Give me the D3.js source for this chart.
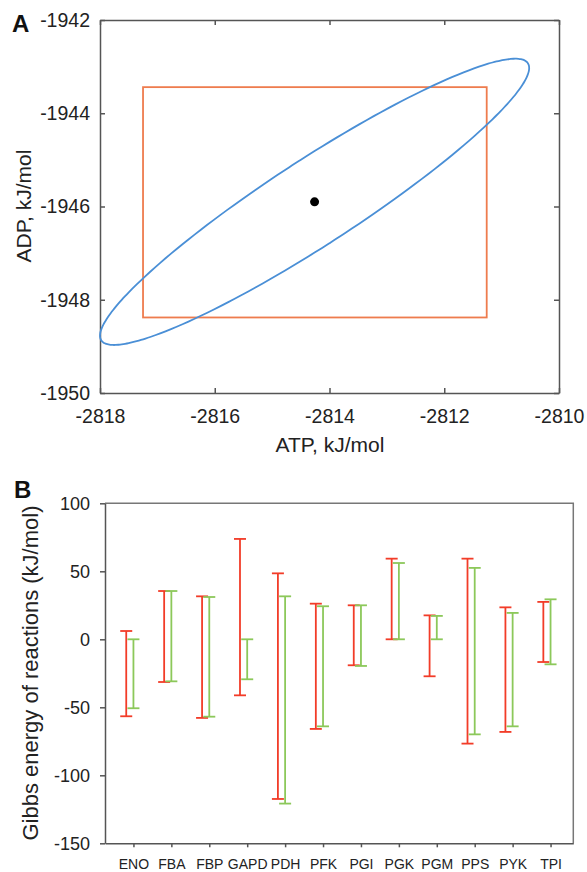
<!DOCTYPE html>
<html>
<head>
	<meta charset="utf-8">
	<title>ATP / ADP and reaction Gibbs energies</title>
	<style>
		body { margin: 0; background: #fff; }
		svg { display: block; font-family: "Liberation Sans", Arial, Helvetica, sans-serif; }
		.axis path, .axis line { stroke: #555; stroke-width: 1.5; }
		.axis text { fill: #222; }
		.panel-a .axis text { font-size: 19.5px; }
		.panel-b .axis text { font-size: 18px; }
		.panel-b .cats text { font-size: 14px; }
		.title { fill: #222; }
		.letter { font-weight: bold; font-size: 24px; fill: #111; }
	</style>
	<script src="https://d3js.org/d3.v7.min.js"></script>
</head>
<body>
	<svg id="chart" width="587" height="872"></svg>

	<script>
		// ---- panel A: ATP vs ADP formation energies
		const atpTicks = [-2818, -2816, -2814, -2812, -2810];
		const adpTicks = [-1950, -1948, -1946, -1944, -1942];
		const boxAtp = [-2817.25, -2811.26];
		const boxAdp = [-1948.38, -1943.44];
		const estimate = [-2814.26, -1945.9];      // ATP, ADP
		const ellipseHalf = [3.74, 3.07];          // half extent along ATP, ADP
		const ellipseCorr = 0.935;

		// ---- panel B: ranges of reaction Gibbs energies
		const reactions = ['ENO', 'FBA', 'FBP', 'GAPD', 'PDH', 'PFK', 'PGI', 'PGK', 'PGM', 'PPS', 'PYK', 'TPI'];
		const redLow    = [-56.6, -31.4, -57.8, -41.2, -117.4, -65.9, -19.1, 0, -27.2, -76.7, -68.1, -16.7];
		const redHigh   = [6.1, 35.5, 31.6, 73.8, 48.5, 26.2, 25.0, 59.3, 17.6, 59.3, 23.5, 27.5];
		const greenLow  = [-50.7, -30.9, -56.9, -29.4, -120.8, -64.0, -19.6, 0, 0, -69.9, -64.0, -18.4];
		const greenHigh = [0, 35.5, 31.1, 0, 31.6, 24.3, 25.0, 56.1, 17.2, 52.5, 19.4, 29.4];
		const gibbsTicks = [-150, -100, -50, 0, 50, 100];

		const svg = d3.select('#chart');
		const fmt = d => String(d);

		// ================= panel A =================
		const a = svg.append('g').attr('class', 'panel-a');
		const xA = d3.scaleLinear().domain([-2818, -2810]).range([100, 559]);
		const yA = d3.scaleLinear().domain([-1950, -1942]).range([393, 20]);

		a.append('g').attr('class', 'axis').attr('transform', 'translate(0,393)')
			.call(d3.axisBottom(xA).tickValues(atpTicks).tickFormat(fmt).tickSize(-5).tickSizeOuter(0).tickPadding(16));
		a.append('g').attr('class', 'axis').attr('transform', 'translate(100,0)')
			.call(d3.axisLeft(yA).tickValues(adpTicks).tickFormat(fmt).tickSize(-5).tickSizeOuter(0).tickPadding(10));
		a.append('g').attr('class', 'axis').attr('transform', 'translate(0,20)')
			.call(d3.axisTop(xA).tickValues(atpTicks).tickFormat('').tickSize(-5).tickSizeOuter(0));
		a.append('g').attr('class', 'axis').attr('transform', 'translate(559,0)')
			.call(d3.axisRight(yA).tickValues(adpTicks).tickFormat('').tickSize(-5).tickSizeOuter(0));

		a.append('rect')
			.attr('x', xA(boxAtp[0])).attr('y', yA(boxAdp[1]))
			.attr('width', xA(boxAtp[1]) - xA(boxAtp[0]))
			.attr('height', yA(boxAdp[0]) - yA(boxAdp[1]))
			.attr('fill', 'none').attr('stroke', '#ee7c4e').attr('stroke-width', 1.8);

		// confidence ellipse from centre, half extents and correlation
		const delta = Math.acos(ellipseCorr);
		const angles = d3.range(0, 2 * Math.PI, Math.PI / 90);
		a.append('path')
			.datum(angles)
			.attr('d', d3.line()
				.x(t => xA(estimate[0] + ellipseHalf[0] * Math.cos(t)))
				.y(t => yA(estimate[1] + ellipseHalf[1] * Math.cos(t + delta)))
				.curve(d3.curveCardinalClosed))
			.attr('fill', 'none').attr('stroke', '#4a8fd6').attr('stroke-width', 1.8);

		a.append('circle')
			.attr('cx', xA(estimate[0])).attr('cy', yA(estimate[1])).attr('r', 4.5)
			.attr('fill', '#000');

		a.append('text').attr('class', 'title')
			.attr('x', 330).attr('y', 452).attr('text-anchor', 'middle')
			.style('font-size', '21px').text('ATP, kJ/mol');
		a.append('text').attr('class', 'title')
			.attr('transform', 'translate(24,206) rotate(-90)').attr('dy', '0.35em')
			.attr('text-anchor', 'middle').style('font-size', '21px').text('ADP, kJ/mol');
		a.append('text').attr('class', 'letter').attr('x', 12).attr('y', 32).text('A');

		// ================= panel B =================
		const b = svg.append('g').attr('class', 'panel-b');
		const xB = d3.scaleLinear().domain([0.25, 12.6]).range([105, 573.3]);
		const yB = d3.scaleLinear().domain([-150, 100]).range([843.3, 503.3]);
		const idx = reactions.map((_, i) => i + 1);

		// light top / right frame
		b.append('path')
			.attr('d', `M${xB.range()[0]},${yB(100)}H${xB.range()[1]}V${yB(-150)}`)
			.attr('fill', 'none').attr('stroke', '#777').attr('stroke-width', 1.5);

		b.append('g').attr('class', 'axis').attr('transform', 'translate(105,0)')
			.call(d3.axisLeft(yB).tickValues(gibbsTicks).tickFormat(fmt).tickSize(5).tickSizeOuter(0).tickPadding(10));
		b.append('g').attr('class', 'axis cats').attr('transform', `translate(0,${yB(-150)})`)
			.call(d3.axisBottom(xB).tickValues(idx).tickFormat(i => reactions[i - 1]).tickSize(4).tickSizeOuter(0).tickPadding(12));

		function errorBars(lo, hi, shift, colour) {
			const g = b.append('g').attr('stroke', colour).attr('stroke-width', 1.8).attr('fill', 'none');
			const cap = 6;
			reactions.forEach((r, i) => {
				const cx = xB(i + 1 + shift);
				g.append('line').attr('x1', cx).attr('x2', cx).attr('y1', yB(lo[i])).attr('y2', yB(hi[i]));
				g.append('line').attr('x1', cx - cap).attr('x2', cx + cap).attr('y1', yB(lo[i])).attr('y2', yB(lo[i]));
				g.append('line').attr('x1', cx - cap).attr('x2', cx + cap).attr('y1', yB(hi[i])).attr('y2', yB(hi[i]));
			});
		}
		errorBars(redLow, redHigh, -0.19, '#f23c28');
		errorBars(greenLow, greenHigh, 0, '#8cc85a');

		b.append('text').attr('class', 'title')
			.attr('transform', 'translate(30,673) rotate(-90)').attr('dy', '0.35em')
			.attr('text-anchor', 'middle').style('font-size', '22px')
			.text('Gibbs energy of reactions (kJ/mol)');
		b.append('text').attr('class', 'letter').attr('x', 14).attr('y', 498).text('B');
	</script>
</body>
</html>
